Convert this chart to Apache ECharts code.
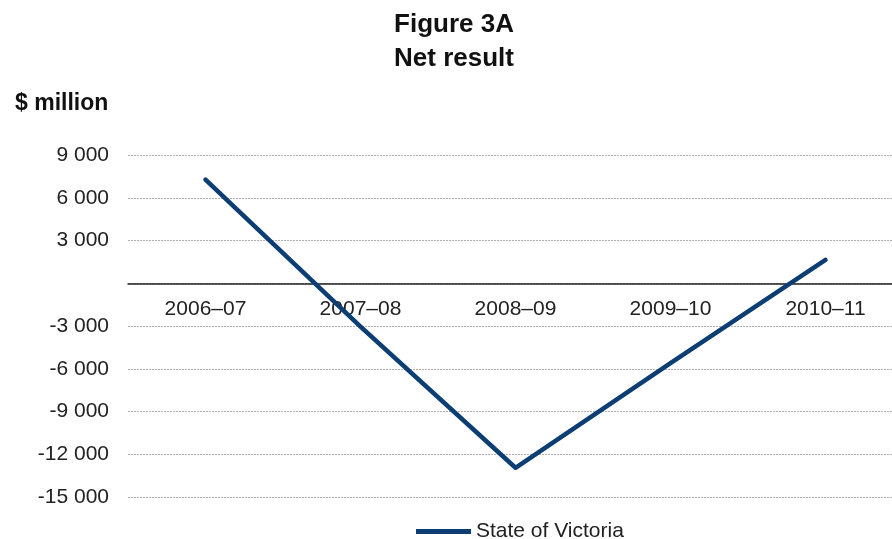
<!DOCTYPE html>
<html>
<head>
<meta charset="utf-8">
<script src="https://cdn.jsdelivr.net/npm/echarts@6/dist/echarts.min.js"></script>
<style>
  html, body { margin: 0; padding: 0; background: #fff; overflow: hidden; }
  /* plot runs past the right edge of the picture, as in the source */
  #chart { width: 903px; height: 539px; }
</style>
</head>
<body>
<div id="chart"></div>
<script>
// data ($ million)
var years = ['2006–07', '2007–08', '2008–09', '2009–10', '2010–11'];
var netResult = [7270, -3050, -12950, -5600, 1640];
var seriesName = 'State of Victoria';

// value axis ticks
var yMin = -15000;
var yMax = 9000;
var yStep = 3000;

var font = 'Liberation Sans, Arial, sans-serif';
var navy = '#0c3e74';

var gridTop = 155;
var gridBottom = 42;
var gridH = 539 - gridTop - gridBottom;
// move the category axis up to the zero line (labels too)
var zeroOffset = -gridH * (0 - yMin) / (yMax - yMin);

function fmt(v) {
  if (v === 0) return '';
  var s = String(Math.abs(v)).replace(/\B(?=(\d{3})+(?!\d))/g, ' ');
  return (v < 0 ? '-' : '') + s;
}

var myChart = echarts.init(document.getElementById('chart'));
var option = {
  animation: false,
  textStyle: { fontFamily: font },
  title: [{
    text: 'Figure 3A\nNet result',
    left: 449,
    top: 3,
    textAlign: 'center',
    textStyle: {
      fontFamily: font,
      fontSize: 26,
      fontWeight: 'bold',
      lineHeight: 34,
      color: '#111'
    }
  }, {
    text: '$ million',
    left: 10,
    top: 87,
    textStyle: {
      fontFamily: font,
      fontSize: 23,
      fontWeight: 'bold',
      color: '#111'
    }
  }],
  legend: {
    data: [seriesName],
    left: 411,
    top: 516,
    icon: 'rect',
    itemWidth: 55,
    itemHeight: 5,
    itemGap: 10,
    textStyle: { fontFamily: font, fontSize: 21, color: '#222' }
  },
  grid: {
    left: 128,
    right: 0,
    top: gridTop,
    bottom: gridBottom,
    containLabel: false
  },
  xAxis: {
    type: 'category',
    data: years,
    boundaryGap: true,
    offset: zeroOffset,
    axisLine: { onZero: false, lineStyle: { color: '#222', width: 1.5 } },
    axisTick: { show: false },
    axisLabel: {
      margin: 15,
      fontFamily: font,
      fontSize: 21,
      color: '#222'
    }
  },
  yAxis: {
    type: 'value',
    min: yMin,
    max: yMax,
    interval: yStep,
    axisLine: { show: false },
    axisTick: { show: false },
    axisLabel: {
      margin: 19,
      fontFamily: font,
      fontSize: 21,
      color: '#222',
      formatter: fmt
    },
    splitLine: {
      lineStyle: { color: '#b0b0b0', type: [2, 1], width: 1 }
    }
  },
  series: [{
    name: seriesName,
    type: 'line',
    data: netResult,
    showSymbol: false,
    symbol: 'none',
    itemStyle: { color: navy },
    lineStyle: { color: navy, width: 4.5, cap: 'round', join: 'round' },
    z: 3
  }]
};
myChart.setOption(option);
</script>
</body>
</html>
